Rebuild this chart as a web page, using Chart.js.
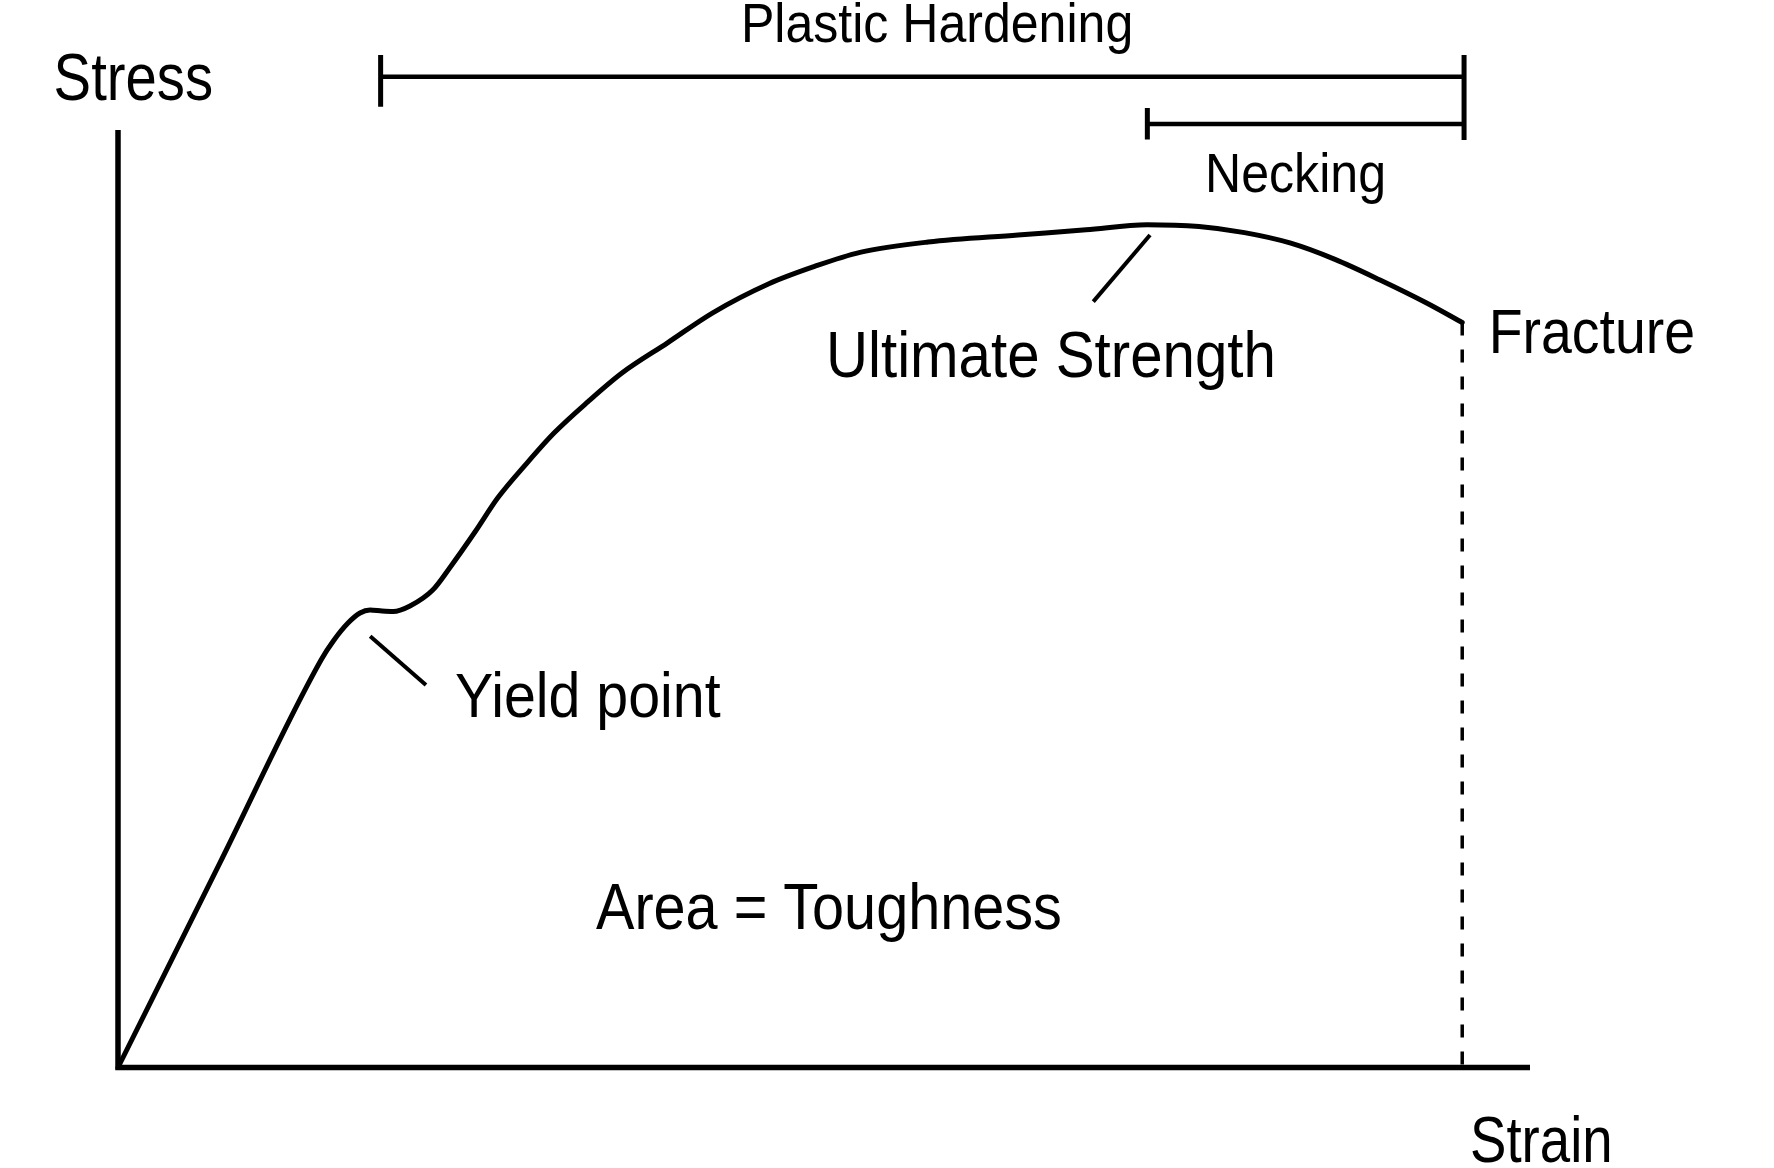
<!DOCTYPE html>
<html>
<head>
<meta charset="utf-8">
<script src="https://cdn.jsdelivr.net/npm/chart.js@4/dist/chart.umd.min.js"></script>
<style>
  html, body { margin: 0; padding: 0; background: #ffffff; }
  #wrap { width: 1774px; height: 1168px; }
</style>
</head>
<body>
<div id="wrap"><canvas id="c" width="1774" height="1168"></canvas></div>
<script>
// ---- Data ----
const curveStrain = [0, 7.19, 14.38, 15.30, 16.29, 17.14, 17.85, 18.70, 19.48, 20.68, 22.29, 23.55, 25.28, 26.90, 28.90, 30.88, 33.29, 35.69, 38.92, 42.12, 46.10, 49.33, 52.55, 57.37, 63.74, 68.56, 72.87, 76.56, 79.78, 83.00, 86.19, 89.38, 92.61, 95.20];
const curveStress = [0, 21.74, 43.47, 45.60, 47.41, 48.48, 48.80, 48.69, 48.64, 49.23, 50.93, 53.42, 57.12, 60.77, 64.37, 67.68, 71.03, 74.08, 77.30, 80.50, 83.60, 85.45, 86.95, 88.05, 88.80, 89.35, 89.90, 89.70, 89.05, 87.95, 86.20, 84.00, 81.60, 79.47];

const fractureStrain = 95.2;
const fractureStress = 79.47;

// range brackets: [start strain, end strain, level]
const plasticRange = [18.6, 95.33, 105.69];
const plasticTicks = [[108.0, 102.49], [108.0, 98.93]];
const neckingRange = [72.9, 95.33, 100.64];
const neckingTicks = [[102.35, 99.0]];

// pointer lines [x1, y1, x2, y2]
const ultimatePointer = [73.09, 88.8, 69.07, 81.69];
const yieldPointer = [17.86, 46.0, 21.81, 40.79];

// axis extents
const axisMaxStrain = 100;
const axisMaxStress = 100;

// labels: text, strain, stress (baseline-left anchor)
const labelTexts = ["Stress", "Plastic Hardening", "Necking", "Ultimate Strength", "Fracture", "Yield point", "Area = Toughness", "Strain"];
const labelStrain = [-4.56, 44.12, 76.98, 50.14, 97.07, 23.87, 33.85, 95.75];
const labelStress = [103.2, 109.42, 93.42, 73.65, 76.21, 37.42, 14.77, -10.05];

// ---- Styles ----
const labelFontSize = [67, 55, 56, 64, 63, 63, 64, 65];
const labelScaleX  = [0.84, 0.91, 0.895, 0.91, 0.88, 0.91, 0.90, 0.84];

const pts = (xs, ys) => xs.map((x, i) => ({ x: x, y: ys[i] }));
const seg = (x1, y1, x2, y2) => [{ x: x1, y: y1 }, { x: x2, y: y2 }];

const base = { pointRadius: 0, borderColor: '#000', clip: false, fill: false, tension: 0 };

const datasets = [
  Object.assign({}, base, { label: 'axes', data: [{x: 0, y: axisMaxStress}, {x: 0, y: 0}, {x: axisMaxStrain, y: 0}], borderWidth: 5.5, borderJoinStyle: 'miter' }),
  Object.assign({}, base, { label: 'curve', data: pts(curveStrain, curveStress), borderWidth: 5, cubicInterpolationMode: 'monotone', borderJoinStyle: 'round', borderCapStyle: 'round' }),
  Object.assign({}, base, { label: 'fracture', data: seg(fractureStrain, fractureStress, fractureStrain, 0), borderWidth: 3.5, borderDash: [13, 14] }),
  Object.assign({}, base, { label: 'plastic', data: seg(plasticRange[0], plasticRange[2], plasticRange[1], plasticRange[2]), borderWidth: 4.5 }),
  Object.assign({}, base, { label: 'plasticL', data: seg(plasticRange[0], plasticTicks[0][0], plasticRange[0], plasticTicks[0][1]), borderWidth: 5 }),
  Object.assign({}, base, { label: 'plasticR', data: seg(plasticRange[1], plasticTicks[1][0], plasticRange[1], plasticTicks[1][1]), borderWidth: 5 }),
  Object.assign({}, base, { label: 'necking', data: seg(neckingRange[0], neckingRange[2], neckingRange[1], neckingRange[2]), borderWidth: 4.5 }),
  Object.assign({}, base, { label: 'neckingL', data: seg(neckingRange[0], neckingTicks[0][0], neckingRange[0], neckingTicks[0][1]), borderWidth: 5 }),
  Object.assign({}, base, { label: 'ultimatePtr', data: seg.apply(null, ultimatePointer), borderWidth: 4 }),
  Object.assign({}, base, { label: 'yieldPtr', data: seg.apply(null, yieldPointer), borderWidth: 4 })
];

const labelPlugin = {
  id: 'labels',
  afterDatasetsDraw(chart) {
    const ctx = chart.ctx;
    const xs = chart.scales.x, ys = chart.scales.y;
    ctx.save();
    ctx.fillStyle = '#000';
    ctx.textBaseline = 'alphabetic';
    ctx.textAlign = 'left';
    labelTexts.forEach((t, i) => {
      const px = xs.getPixelForValue(labelStrain[i]);
      const py = ys.getPixelForValue(labelStress[i]);
      ctx.save();
      ctx.translate(px, py);
      ctx.scale(labelScaleX[i], 1);
      ctx.font = labelFontSize[i] + 'px "Liberation Sans", Arial, sans-serif';
      ctx.fillText(t, 0, 0);
      ctx.restore();
    });
    ctx.restore();
  }
};

const bgPlugin = {
  id: 'bg',
  beforeDraw(chart) {
    const ctx = chart.ctx;
    ctx.save();
    ctx.fillStyle = '#fff';
    ctx.fillRect(0, 0, chart.width, chart.height);
    ctx.restore();
  }
};

new Chart(document.getElementById('c'), {
  type: 'line',
  data: { datasets: datasets },
  options: {
    responsive: false,
    devicePixelRatio: 1,
    animation: false,
    layout: { padding: { left: 118, right: 244, top: 130, bottom: 100.5 } },
    plugins: { legend: { display: false }, tooltip: { enabled: false } },
    scales: {
      x: { type: 'linear', display: false, min: 0, max: axisMaxStrain },
      y: { type: 'linear', display: false, min: 0, max: axisMaxStress }
    }
  },
  plugins: [bgPlugin, labelPlugin]
});
</script>
</body>
</html>
